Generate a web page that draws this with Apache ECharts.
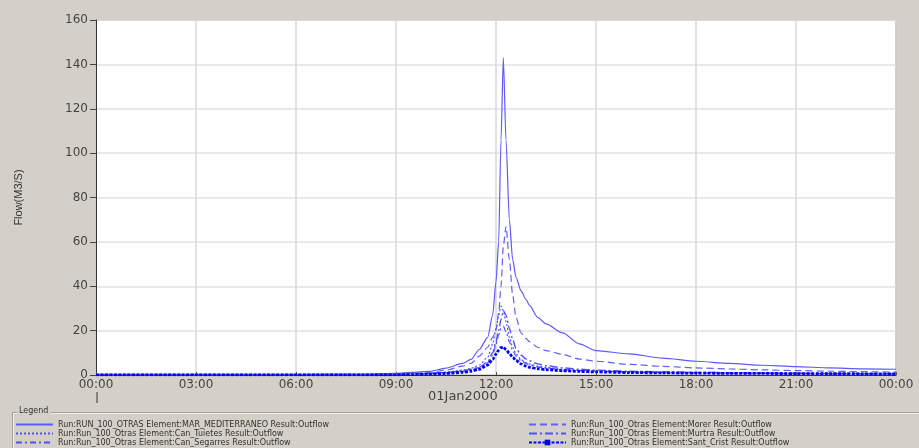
<!DOCTYPE html>
<html>
<head>
<meta charset="utf-8">
<script src="https://cdn.jsdelivr.net/npm/echarts@6/dist/echarts.min.js"></script>
<style>
html,body{margin:0;padding:0;background:#d4d0c8;}
#chart{width:919px;height:448px;}
</style>
</head>
<body>
<div id="chart"></div>
<script>
// Time in hours from 00:00 on 01Jan2000
var hours = [0, 3, 6, 8, 9, 9.5, 10, 10.5, 11, 11.25, 11.5, 11.75, 11.9, 12, 12.08, 12.15, 12.22, 12.3, 12.4, 12.5, 12.6, 12.75, 12.9, 13, 13.25, 13.5, 14, 14.5, 15, 16, 17, 18, 19, 20, 21, 22, 23, 24];

var marMediterraneo = [0.3, 0.3, 0.3, 0.4, 0.8, 1.2, 1.6, 3.1, 5.2, 7, 11.5, 17, 27, 42, 60, 106, 143, 106, 70, 52, 44, 38, 34, 31.5, 26, 23, 19, 14, 11, 9.5, 7.6, 6.2, 5.2, 4.4, 3.8, 3.2, 2.8, 2.6];
var morer = [0.2, 0.2, 0.2, 0.2, 0.4, 0.7, 1.2, 2.2, 4, 5.3, 8.5, 12.5, 17, 20, 28, 40, 58, 67, 52, 36, 26, 19, 16.5, 15, 12.5, 11, 9.3, 7.2, 6.2, 4.8, 3.9, 3.2, 2.7, 2.3, 2, 1.7, 1.5, 1.3];
var canTuietes = [0.1, 0.1, 0.1, 0.1, 0.3, 0.5, 0.8, 1.3, 2.2, 3, 4.5, 8, 14, 21, 27, 31, 29, 24, 17, 12.5, 9.5, 7, 5.6, 5, 4, 3.4, 2.6, 2.1, 1.8, 1.4, 1.2, 1, 0.9, 0.8, 0.7, 0.6, 0.6, 0.5];
var canSegarres = [0.1, 0.1, 0.1, 0.1, 0.2, 0.4, 0.6, 1, 1.7, 2.3, 3.3, 5.5, 9, 14, 18, 21, 22, 19.5, 15, 11, 8.5, 6.5, 5.2, 4.6, 3.7, 3.1, 2.4, 2, 1.7, 1.3, 1.1, 0.9, 0.8, 0.7, 0.6, 0.6, 0.5, 0.5];
var murtra = [0.1, 0.1, 0.1, 0.1, 0.3, 0.4, 0.7, 1.1, 1.9, 2.6, 3.5, 6, 10, 15, 20, 25, 29, 27, 21, 16, 12, 9, 7.2, 6.4, 5, 4.2, 3.2, 2.6, 2.2, 1.7, 1.4, 1.2, 1, 0.9, 0.8, 0.7, 0.6, 0.6];
var santCrist = [0.05, 0.05, 0.05, 0.05, 0.1, 0.2, 0.4, 0.7, 1.2, 1.7, 2.6, 4.5, 7, 9.5, 11.2, 12.3, 12.6, 11.5, 9.8, 8, 6.6, 5, 4, 3.5, 2.8, 2.4, 1.9, 1.6, 1.4, 1.1, 0.95, 0.85, 0.75, 0.7, 0.65, 0.6, 0.55, 0.5];

var seriesNames = [
  'Run:RUN_100_OTRAS Element:MAR_MEDITERRANEO Result:Outflow',
  'Run:Run_100_Otras Element:Can_Tuietes Result:Outflow',
  'Run:Run_100_Otras Element:Can_Segarres Result:Outflow',
  'Run:Run_100_Otras Element:Morer Result:Outflow',
  'Run:Run_100_Otras Element:Murtra Result:Outflow',
  'Run:Run_100_Otras Element:Sant_Crist Result:Outflow'
];
var xTickLabels = ['00:00', '03:00', '06:00', '09:00', '12:00', '15:00', '18:00', '21:00', '00:00'];
var yTicks = [0, 20, 40, 60, 80, 100, 120, 140, 160];
var dateLabel = '01Jan2000';

function pairs(vals) {
  return hours.map(function (h, i) { return [h, vals[i]]; });
}

var chart = echarts.init(document.getElementById('chart'), null, {renderer: 'canvas'});

var fontTick = 'DejaVu Sans';
var lineBlue = '#5050ff';

function lineSeries(name, vals, type, width, color, extra) {
  var s = {
    name: name,
    type: 'line',
    data: pairs(vals),
    symbol: 'none',
    smooth: 0.25,
    smoothMonotone: 'x',
    animation: false,
    lineStyle: {color: color, width: width, type: type},
    itemStyle: {color: color},
    emphasis: {disabled: true}
  };
  if (extra) { for (var k in extra) s[k] = extra[k]; }
  return s;
}

var legendText = {fontFamily: 'DejaVu Sans', fontSize: 8, color: '#333', lineHeight: 9};

function legendData(names) {
  return names.map(function (n) {
    if (n.indexOf('Sant_Crist') >= 0) return {name: n, itemStyle: {opacity: 1}};
    return {name: n};
  });
}

chart.setOption({
  backgroundColor: '#d4d0c8',
  animation: false,
  grid: {
    left: 96, top: 20, width: 800, height: 355,
    show: true, backgroundColor: '#ffffff', borderColor: '#777777', borderWidth: 1
  },
  legend: [
    {
      data: legendData(seriesNames.slice(0, 3)), orient: 'vertical', left: 15, top: 420, bottom: 0, padding: 0,
      itemWidth: 37, itemHeight: 7, itemGap: 0, textStyle: legendText,
      itemStyle: {opacity: 0}, selectedMode: false
    },
    {
      data: legendData(seriesNames.slice(3)), orient: 'vertical', left: 528, top: 420, bottom: 0, padding: 0,
      itemWidth: 37, itemHeight: 7, itemGap: 0, textStyle: legendText,
      itemStyle: {opacity: 0}, selectedMode: false
    }
  ],
  xAxis: {
    type: 'value', min: 0, max: 24, interval: 3,
    axisLine: {show: true, onZero: false, lineStyle: {color: '#333', width: 1}},
    axisTick: {show: true, inside: true, length: 3, lineStyle: {color: '#555'}},
    splitLine: {show: true, lineStyle: {color: '#d8d8d8', width: 1.5}},
    axisLabel: {
      margin: 4, fontFamily: fontTick, fontSize: 12, color: '#444',
      formatter: function (v) { return xTickLabels[Math.round(v / 3)]; },
      showMinLabel: true, showMaxLabel: true
    }
  },
  yAxis: {
    type: 'value', min: 0, max: 160, interval: 20,
    name: 'Flow(M3/S)', nameLocation: 'middle', nameRotate: 90, nameGap: 72,
    nameTextStyle: {fontFamily: 'Liberation Sans', fontSize: 11, color: '#333'},
    axisLine: {show: true, lineStyle: {color: '#333', width: 1}},
    axisTick: {show: true, length: 6, lineStyle: {color: '#444'}},
    splitLine: {show: true, lineStyle: {color: '#e2e2e2', width: 1.5}},
    axisLabel: {
      margin: 8, fontFamily: fontTick, fontSize: 12, color: '#444',
      formatter: function (v) { return yTicks.indexOf(v) >= 0 ? String(v) : ''; }
    }
  },
  graphic: [
    {type: 'line', shape: {x1: 97, y1: 392, x2: 97, y2: 403}, style: {stroke: '#333', lineWidth: 1}, silent: true},
    {type: 'text', left: 428, top: 390, style: {text: dateLabel, font: '13px "DejaVu Sans"', fill: '#444'}, silent: true},
    {type: 'rect', shape: {x: 12.5, y: 412.5, width: 930, height: 60}, style: {fill: 'none', stroke: '#a8a49c', lineWidth: 1}, silent: true},
    {type: 'rect', shape: {x: 13.5, y: 413.5, width: 930, height: 60}, style: {fill: 'none', stroke: '#f0eee8', lineWidth: 1}, silent: true},
    {type: 'text', left: 17, top: 407, style: {text: 'Legend', font: '8px "DejaVu Sans"', fill: '#333', backgroundColor: '#d4d0c8', padding: [0, 2]}, silent: true}
  ],
  series: [
    lineSeries(seriesNames[0], marMediterraneo, 'solid', 1.2, '#5a5aff'),
    lineSeries(seriesNames[1], canTuietes, [2, 2], 1.2, lineBlue),
    lineSeries(seriesNames[2], canSegarres, [6, 3, 2, 3], 1.2, lineBlue),
    lineSeries(seriesNames[3], morer, [7, 4], 1.2, '#6060ff'),
    lineSeries(seriesNames[4], murtra, [8, 3, 2, 3], 1.4, lineBlue),
    lineSeries(seriesNames[5], santCrist, [3, 1.5], 2.8, '#0000ff', {symbol: 'rect', symbolSize: 5, showSymbol: false})
  ]
});
</script>
</body>
</html>
